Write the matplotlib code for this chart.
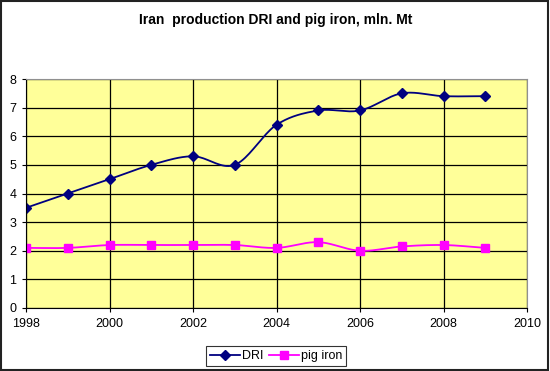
import numpy as np
import matplotlib
matplotlib.use("Agg")
import matplotlib.pyplot as plt
from matplotlib.patches import Rectangle
from matplotlib.lines import Line2D

years = [1998, 1999, 2000, 2001, 2002, 2003, 2004, 2005, 2006, 2007, 2008, 2009]
dri = [3.5, 4.0, 4.5, 5.0, 5.3, 5.0, 6.4, 6.9, 6.9, 7.5, 7.4, 7.4]
pig_iron = [2.1, 2.1, 2.2, 2.2, 2.2, 2.2, 2.1, 2.3, 2.0, 2.15, 2.2, 2.1]
title = "Iran  production DRI and pig iron, mln. Mt"

plt.rcParams['font.family'] = ['Liberation Sans', 'DejaVu Sans']

def smooth(x, y, n=20):
    x = np.asarray(x, float); y = np.asarray(y, float)
    px = np.concatenate([[2*x[0]-x[1]], x, [2*x[-1]-x[-2]]])
    py = np.concatenate([[2*y[0]-y[1]], y, [2*y[-1]-y[-2]]])
    xs, ys = [], []
    for i in range(1, len(px)-2):
        t = np.linspace(0, 1, n, endpoint=False)
        for p, out in ((px, xs), (py, ys)):
            p0, p1, p2, p3 = p[i-1], p[i], p[i+1], p[i+2]
            out.extend(0.5*((2*p1) + (-p0+p2)*t + (2*p0-5*p1+4*p2-p3)*t**2 + (-p0+3*p1-3*p2+p3)*t**3))
    xs.append(x[-1]); ys.append(y[-1])
    return np.array(xs), np.array(ys)

fig = plt.figure(figsize=(5.5, 3.71), dpi=100)
fig.patches.append(Rectangle((0.002, 0.003), 0.995, 0.994, transform=fig.transFigure,
                             fill=False, edgecolor='#222222', linewidth=1.5))
ax = fig.add_axes([26/550, 1-308/371, (527-26)/550, (308-79)/371])
ax.set_facecolor('#FFFF99')
ax.set_xlim(1998, 2010)
ax.set_ylim(0, 8)
ax.set_xticks(range(1998, 2011, 2))
ax.set_yticks(range(0, 9))
ax.grid(True, color='black', linewidth=0.9)
ax.set_axisbelow(True)
for s in ax.spines.values():
    s.set_color('#909090')
ax.spines['left'].set_color('black')
ax.spines['bottom'].set_color('black')
ax.tick_params(labelsize=9, length=3, direction='out', pad=4)

sx, sy = smooth(years, dri)
ax.plot(sx, sy, color='#000080', linewidth=1.3)
ax.plot(years, dri, linestyle='none', marker='D', markersize=5, color='#000080')
px, py = smooth(years, pig_iron)
ax.plot(px, py, color='#FF00FF', linewidth=1.3)
ax.plot(years, pig_iron, linestyle='none', marker='s', markersize=6, color='#FF00FF')

h1 = Line2D([], [], color='#000080', marker='D', markersize=5, linewidth=1.3)
h2 = Line2D([], [], color='#FF00FF', marker='s', markersize=6, linewidth=1.3)
leg = fig.legend([h1, h2], ['DRI', 'pig iron'], loc='center', bbox_to_anchor=(276/550, 1-356/371),
                 ncol=2, fontsize=9, frameon=True, fancybox=False, handlelength=2.4,
                 columnspacing=0.4, handletextpad=0.2, borderpad=0.3)
leg.get_frame().set_edgecolor('black')
leg.get_frame().set_linewidth(0.8)

fig.text(276/550, 1-20/371, title, ha='center', va='center', fontsize=10, fontweight='bold')
fig.savefig('out.png', dpi=100)
